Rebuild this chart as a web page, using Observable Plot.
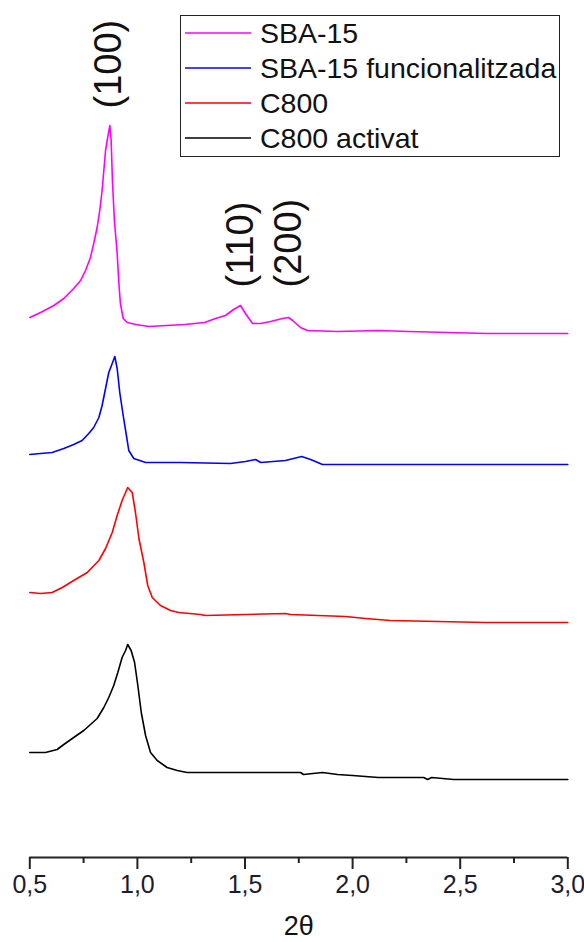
<!DOCTYPE html>
<html>
<head>
<meta charset="utf-8">
<script src="https://cdn.jsdelivr.net/npm/d3@7"></script>
<script src="https://cdn.jsdelivr.net/npm/@observablehq/plot@0.6"></script>
<style>
  body { margin: 0; background: #fff; font-family: "Liberation Sans", Arial, sans-serif; }
  #wrap { position: relative; width: 584px; height: 942px; }
  #legend { position: absolute; left: 180px; top: 15px; width: 380px; height: 142px;
            border: 1.5px solid #222; box-sizing: border-box; background: #fff; }
  .row { position: absolute; left: 0; height: 34px; display: flex; align-items: center; }
  .row svg { margin-left: 4px; margin-right: 9px; }
  .row span { font-size: 28.5px; color: #111; white-space: nowrap; }
</style>
</head>
<body>
<div id="wrap"><div id="legend"></div></div>
<script>
// Series names and colours
const seriesNames = ["SBA-15", "SBA-15 funcionalitzada", "C800", "C800 activat"];
const seriesColors = ["#ff00ff", "#0000ff", "#ff0000", "#000000"];

// 2θ positions and (offset, stacked) intensities
const sbaX = [0.5,0.550,0.612,0.658,0.704,0.736,0.759,0.782,0.797,0.813,0.825,0.836,0.844,0.852,0.862,0.872,0.878,0.884,0.893,0.906,0.914,0.921,0.934,0.953,0.992,1.053,1.219,1.312,1.363,1.409,1.447,1.479,1.502,1.535,1.573,1.619,1.674,1.702,1.721,1.758,1.790,1.930,2.120,2.259,2.627,3.0];
const sbaY = [540,545,552,559,569,577,587,600,614,630,647,667,687,707,720,732,717,677,637,604,574,554,539,535,533,531,533,535,539,542,548,552,544,534,534,536,539,540,537,530,527,526,527,526,524,524];

const sbaFX = [0.5,0.550,0.604,0.658,0.704,0.743,0.774,0.797,0.821,0.836,0.852,0.867,0.883,0.895,0.906,0.918,0.934,0.949,0.960,0.983,1.038,1.200,1.433,1.502,1.549,1.573,1.688,1.763,1.805,1.860,3.0];
const sbaFY = [403,404,405,409,413,417,424,430,440,452,469,485,494,501,489,465,442,422,407,399,395,395,394,396,398,395,397,401,398,393,393];

const c800X = [0.5,0.550,0.604,0.651,0.704,0.767,0.821,0.852,0.883,0.906,0.929,0.945,0.955,0.976,0.991,1.007,1.030,1.048,1.069,1.107,1.154,1.192,1.293,1.316,1.688,1.712,1.967,2.060,2.176,2.618,3.0];
const c800Y = [265,264,265,270,277,285,297,309,325,342,357,365,370,365,345,319,295,272,260,252,247,245,243,242,244,243,241,239,237,235,235];

const c800aX = [0.5,0.573,0.627,0.658,0.704,0.751,0.813,0.844,0.867,0.890,0.909,0.929,0.945,0.955,0.971,0.987,1.002,1.018,1.038,1.061,1.092,1.138,1.185,1.231,1.386,1.758,1.772,1.860,1.930,2.000,2.120,2.330,2.349,2.367,2.470,3.0];
const c800aY = [105,105,108,113,120,127,139,150,160,172,185,200,207,213,207,195,172,145,122,105,97,90,87,85,85,85,83,85,83,82,80,80,78,80,78,78];

// Axis ticks
const majorTicks = [0.5, 1.0, 1.5, 2.0, 2.5, 3.0];
const minorTicks = [0.75, 1.25, 1.75, 2.25, 2.75];

// Peak annotations
const peakLabels = ["(100)", "(110)", "(200)"];
const peakX = [0.866, 1.479, 1.702];
const peakY = [749, 570, 570];

const seriesX = [sbaX, sbaFX, c800X, c800aX];
const seriesY = [sbaY, sbaFY, c800Y, c800aY];
const rows = [];
seriesNames.forEach((name, i) => {
  seriesX[i].forEach((x, j) => rows.push({series: name, x, y: seriesY[i][j]}));
});
const annots = peakLabels.map((t, i) => ({text: t, x: peakX[i], y: peakY[i]}));

const chart = Plot.plot({
  width: 584,
  height: 942,
  marginLeft: 29.3,
  marginRight: 16.7,
  marginTop: 0,
  marginBottom: 85,
  x: {domain: [0.5, 3.0]},
  y: {domain: [0, 857], axis: null},
  color: {domain: seriesNames, range: seriesColors},
  style: {fontFamily: "'Liberation Sans', Arial, sans-serif", background: "#fff", overflow: "visible"},
  marks: [
    Plot.ruleY([0], {stroke: "#222", strokeWidth: 2}),
    Plot.axisX({ticks: majorTicks, tickSize: 12, tickPadding: 6, strokeWidth: 2, stroke: "#222", fill: "#1c1c30",
      fontSize: 25, tickFormat: d => d.toFixed(1).replace(".", ","), label: null}),
    Plot.axisX({ticks: minorTicks, tickSize: 6, strokeWidth: 2, stroke: "#222", tickFormat: () => "", label: null}),
    Plot.text(["2θ"], {frameAnchor: "bottom", lineAnchor: "middle", dy: 69, fontSize: 27, fill: "#111"}),
    Plot.line(rows, {x: "x", y: "y", z: "series", stroke: "series", strokeWidth: 1.6, curve: "linear"}),
    Plot.text(annots, {x: "x", y: "y", text: "text", rotate: -90, textAnchor: "start", lineAnchor: "middle",
      fontSize: 38, fill: "#111"})
  ]
});
document.getElementById("wrap").prepend(chart);

// Legend built from the series arrays
const legend = document.getElementById("legend");
seriesNames.forEach((name, i) => {
  const row = document.createElement("div");
  row.className = "row";
  row.style.top = (0 + i * 35) + "px";
  row.innerHTML = `<svg width="66" height="4"><line x1="0" y1="2" x2="66" y2="2" stroke="${seriesColors[i]}" stroke-width="1.6"/></svg><span>${name}</span>`;
  legend.appendChild(row);
});
</script>
</body>
</html>
